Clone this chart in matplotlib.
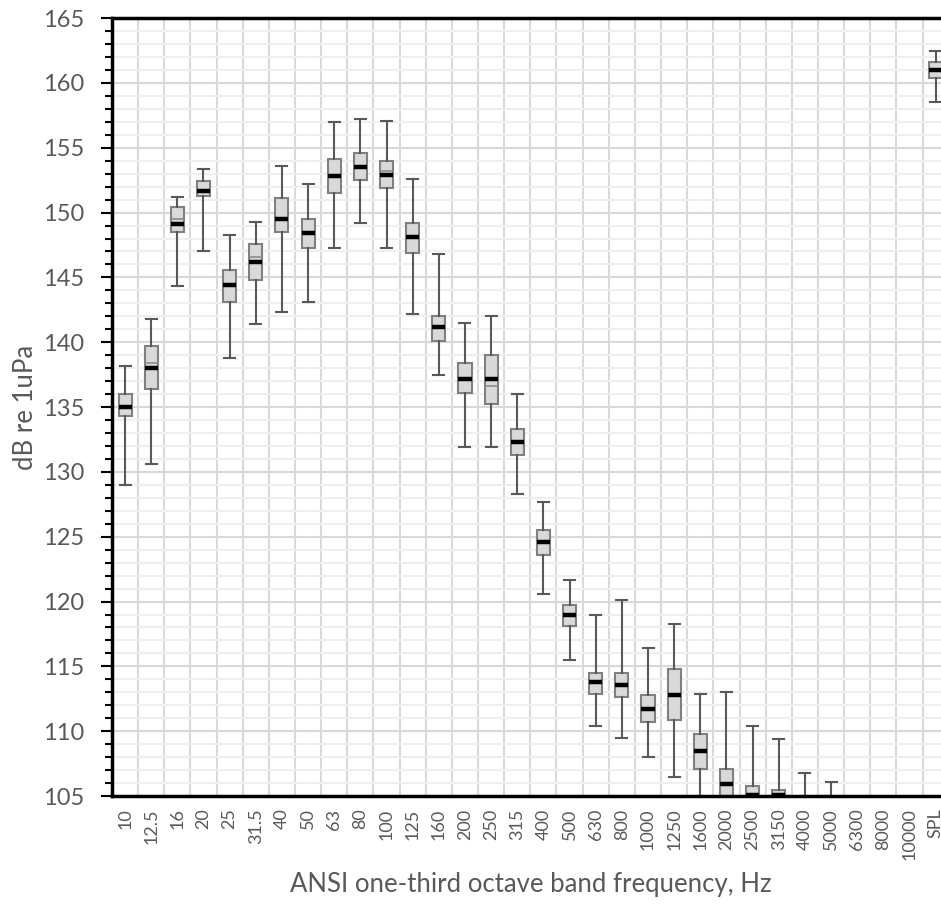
import matplotlib.pyplot as plt
from matplotlib.ticker import MultipleLocator

bands = ['10', '12.5', '16', '20', '25', '31.5', '40', '50', '63', '80', '100',
         '125', '160', '200', '250', '315', '400', '500', '630', '800', '1000',
         '1250', '1600', '2000', '2500', '3150', '4000', '5000', '6300', '8000',
         '10000', 'SPL']

whis_hi = [138.2, 141.8, 151.2, 153.4, 148.3, 149.3, 153.6, 152.2, 157.0, 157.2, 157.1,
           152.6, 146.8, 141.5, 142.0, 136.0, 127.7, 121.7, 119.0, 120.1, 116.4,
           118.3, 112.9, 113.0, 110.4, 109.4, 106.8, 106.1, 104.5, 104.2, 104.0, 162.5]
q3 = [136.0, 139.7, 150.4, 152.4, 145.6, 147.6, 151.1, 149.5, 154.1, 154.6, 154.0,
      149.2, 142.0, 138.4, 139.0, 133.3, 125.5, 119.7, 114.5, 114.5, 112.8,
      114.8, 109.8, 107.1, 105.8, 105.5, 104.8, 104.5, 102.5, 102.0, 101.8, 161.6]
median = [135.0, 138.0, 149.1, 151.7, 144.4, 146.2, 149.5, 148.4, 152.8, 153.5, 152.9,
          148.1, 141.2, 137.2, 137.2, 132.3, 124.6, 119.0, 113.8, 113.6, 111.7,
          112.8, 108.5, 105.9, 105.1, 105.05, 104.0, 103.5, 101.5, 101.0, 100.8, 161.0]
mean = [135.0, 138.4, 149.5, 151.7, 144.4, 146.6, 149.5, 148.4, 152.8, 153.5, 153.2,
        148.1, 141.2, 137.2, 136.6, 132.3, 124.6, 119.0, 113.8, 113.6, 111.7,
        112.8, 108.5, 105.9, 105.1, 105.05, 104.0, 103.5, 101.5, 101.0, 100.8, 161.0]
q1 = [134.3, 136.4, 148.5, 151.3, 143.1, 144.8, 148.5, 147.3, 151.5, 152.5, 151.9,
      146.9, 140.1, 136.1, 135.2, 131.3, 123.6, 118.1, 112.9, 112.6, 110.7,
      110.9, 107.1, 104.5, 104.3, 104.3, 103.0, 102.5, 100.5, 100.0, 99.8, 160.4]
whis_lo = [129.0, 130.6, 144.3, 147.0, 138.8, 141.4, 142.3, 143.1, 147.3, 149.2, 147.3,
           142.2, 137.5, 131.9, 131.9, 128.3, 120.6, 115.5, 110.4, 109.5, 108.0,
           106.5, 103.5, 102.0, 102.0, 102.0, 101.0, 100.5, 98.5, 98.0, 97.5, 158.5]

stats = []
for i in range(len(bands)):
    stats.append({'label': bands[i], 'med': median[i], 'mean': mean[i],
                  'q1': q1[i], 'q3': q3[i], 'whislo': whis_lo[i], 'whishi': whis_hi[i],
                  'fliers': []})

plt.rcParams['font.family'] = ['Lato', 'DejaVu Sans']
fig = plt.figure(figsize=(9.41, 9.05), dpi=100)
ax = fig.add_axes([0.119, 0.1204, 1.0082 - 0.119, 0.980 - 0.1204])

txt = '#595959'
ax.bxp(stats, positions=range(len(bands)), widths=0.5, patch_artist=True,
       showmeans=True, meanline=True,
       boxprops={'facecolor': '#d9d9d9', 'edgecolor': '#808080', 'linewidth': 1.5},
       whiskerprops={'color': '#595959', 'linewidth': 1.5},
       capprops={'color': '#595959', 'linewidth': 1.5},
       capwidths=0.42,
       medianprops={'color': 'black', 'linewidth': 3.2, 'solid_capstyle': 'butt',
                    'zorder': 2.6},
       meanprops={'color': '#8c8c8c', 'linewidth': 1.2, 'linestyle': '-',
                  'zorder': 2.3})

ax.set_xlim(-0.5, len(bands) - 0.5)
ax.set_ylim(105, 165)
ax.set_xticks(range(len(bands)))
ax.set_xticklabels(bands, rotation=90, fontsize=13, color=txt)
ax.tick_params(axis='x', length=0, pad=9)

ax.yaxis.set_major_locator(MultipleLocator(5))
ax.yaxis.set_minor_locator(MultipleLocator(1))
ax.tick_params(axis='y', which='major', length=8, width=1.5, labelsize=17,
               labelcolor=txt, pad=12)
ax.tick_params(axis='y', which='minor', length=5, width=1.5)

# vertical gridlines between categories
ax.set_xticks([i + 0.5 for i in range(len(bands))], minor=True)
ax.tick_params(axis='x', which='minor', length=0)
ax.grid(True, axis='x', which='minor', color='#d9d9d9', linewidth=1.5)
ax.grid(True, axis='y', which='major', color='#d9d9d9', linewidth=1.5)
ax.grid(True, axis='y', which='minor', color='#efefef', linewidth=1.5)
ax.set_axisbelow(True)

for s in ['left', 'bottom', 'top']:
    ax.spines[s].set_linewidth(2.5)
    ax.spines[s].set_color('black')
ax.spines['right'].set_visible(False)

ax.set_ylabel('dB re 1uPa', fontsize=18.5, color=txt)
ax.yaxis.set_label_coords(-0.088, 0.5)
ax.set_xlabel('ANSI one-third octave band frequency, Hz', fontsize=18.5, color=txt)
ax.xaxis.set_label_coords(0.5, -0.098)

fig.savefig('out.png', dpi=100)
